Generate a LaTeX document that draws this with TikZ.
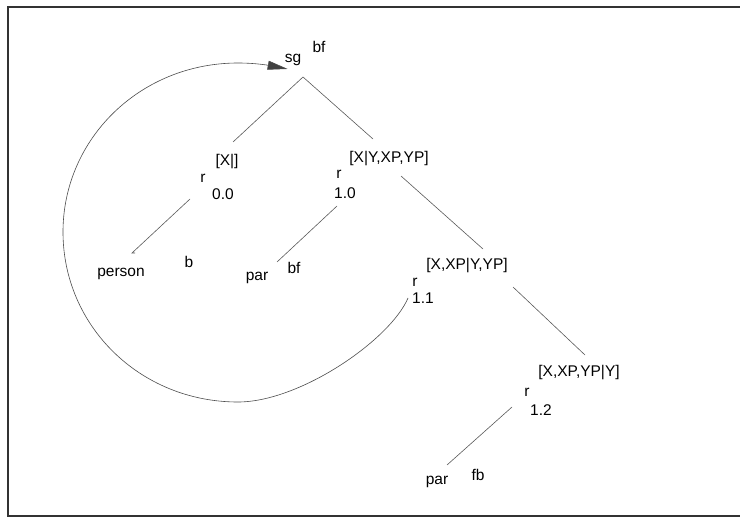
\documentclass[tikz,border=0pt]{standalone}
\usepackage{fontspec}
\setmainfont{Liberation Sans}
\usetikzlibrary{arrows.meta}

\begin{document}
\begin{tikzpicture}[
    x=1pt, y=-1pt,
    lbl/.style={inner sep=1pt, font=\fontsize{15.5}{18}\selectfont},
    branch/.style={draw=black!65, line width=0.6pt},
    loop/.style={draw=black!70, line width=0.6pt,
        -{Triangle[length=20pt,width=9pt,fill=black!75]}}
]
    \useasboundingbox (0,0) rectangle (740,519);
    \draw[line width=1.3pt, black!80] (740,7) -- (8,7) -- (8,516) -- (740,516);

    \node[lbl] (sg) at (293,60) {sg};
    \node[lbl] (sgbf) at (319,47) {bf};

    \node[lbl] (lst00) at (227,162) {[X|]};
    \node[lbl] (r00) at (203,178) {r};
    \node[lbl] (n00) at (223,194) {0.0};
    \node[lbl] (person) at (121,274) {person};
    \node[lbl] (b) at (189,262) {b};

    \node[lbl] (lst10) at (389,159) {[X|Y,XP,YP]};
    \node[lbl] (r10) at (339,174) {r};
    \node[lbl] (n10) at (345,193) {1.0};
    \node[lbl] (par10) at (257,278) {par};
    \node[lbl] (bf10) at (294,268) {bf};

    \node[lbl] (lst11) at (467,266) {[X,XP|Y,YP]};
    \node[lbl] (r11) at (415,282) {r};
    \node[lbl] (n11) at (423,298) {1.1};

    \node[lbl] (lst12) at (579,373) {[X,XP,YP|Y]};
    \node[lbl] (r12) at (527,392) {r};
    \node[lbl] (n12) at (541,410) {1.2};
    \node[lbl] (par12) at (437,482) {par};
    \node[lbl] (fb12) at (478,475) {fb};

    \coordinate (apex) at (303,77);
    \coordinate (apexl) at (233,142);
    \coordinate (apexr) at (373,139);
    \coordinate (k00) at (190,199);
    \coordinate (k00e) at (132,253);
    \coordinate (k10) at (337,206);
    \coordinate (k10e) at (277,262);
    \coordinate (k10r) at (401,176);
    \coordinate (k10re) at (483,249);
    \coordinate (k11r) at (513,287);
    \coordinate (k11re) at (585,355);
    \coordinate (k12) at (512,407);
    \coordinate (k12e) at (447,465);

    \draw[branch] (apexl) -- (apex) -- (apexr);
    \draw[branch] (k00) -- (k00e) -- ++(3,0);
    \draw[branch] (k10) -- (k10e);
    \draw[branch] (k10r) -- (k10re);
    \draw[branch] (k11r) -- (k11re);
    \draw[branch] (k12) -- (k12e);

    \draw[loop] ([xshift=-3pt]n11.west)
        .. controls (390,340) and (300,402) .. (238,402)
        .. controls (140,402) and (63,326) .. (63,232)
        .. controls (63,139) and (140,63) .. (238,63)
        .. controls (258,63) and (272,66) .. ([shift={(4,2)}]sg.south west);
\end{tikzpicture}
\end{document}
